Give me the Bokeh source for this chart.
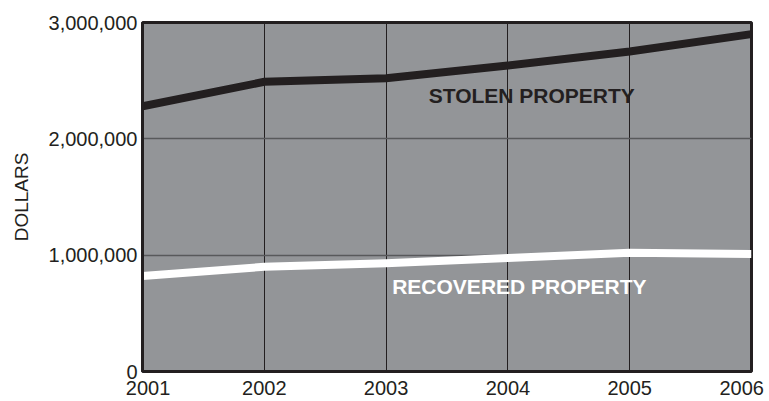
from bokeh.plotting import figure
from bokeh.models import FixedTicker, NumeralTickFormatter, Range1d, Label
from bokeh.embed import file_html
from bokeh.resources import INLINE

# ---- data ----
years = [2001, 2002, 2003, 2004, 2005, 2006]
stolen = [2280000, 2490000, 2520000, 2630000, 2750000, 2900000]
recovered = [820000, 900000, 930000, 975000, 1020000, 1010000]
y_ticks = [0, 1000000, 2000000, 3000000]
x_tick_labels = ["2001", "2002", "2003", "2004", "2005", "2006"]

X_MIN, X_MAX = 2001, 2006
Y_MIN, Y_MAX = 0, 3000000

INK = "#231f20"
FONT = "Liberation Sans"
NB = "\u00a0"

W, H = 769, 401
ML, MR, MT, MB = 142, 18, 22, 29

p = figure(width=W, height=H, output_backend="svg", toolbar_location=None,
           x_range=Range1d(X_MIN, X_MAX), y_range=Range1d(Y_MIN, Y_MAX),
           min_border_left=ML, min_border_right=MR,
           min_border_top=MT, min_border_bottom=MB)

p.background_fill_color = "#939598"
p.border_fill_color = "white"
p.outline_line_color = INK
p.outline_line_width = 3

# x axis
p.xaxis.ticker = FixedTicker(ticks=years)
p.xgrid.ticker = FixedTicker(ticks=years)
# end labels nudged inward (non-breaking padding) so they stay inside the page
overrides = {}
for i, (yr, lab) in enumerate(zip(years, x_tick_labels)):
    if i == 0:
        overrides[yr] = NB * 2 + lab
    elif i == len(years) - 1:
        overrides[yr] = lab + NB
    else:
        overrides[yr] = lab
p.xaxis.major_label_overrides = overrides
p.xaxis.major_tick_line_color = None
p.xaxis.minor_tick_line_color = None
p.xaxis.major_tick_out = 0
p.xaxis.major_tick_in = 0
p.xaxis.axis_line_color = None
p.xaxis.major_label_standoff = 5
p.xaxis.major_label_text_font = FONT
p.xaxis.major_label_text_font_size = "20px"
p.xaxis.major_label_text_color = INK
p.xgrid.grid_line_color = INK
p.xgrid.grid_line_width = 1

# y axis
p.yaxis.ticker = FixedTicker(ticks=y_ticks)
p.ygrid.ticker = FixedTicker(ticks=y_ticks)
p.ygrid.grid_line_color = "#58595b"
p.ygrid.grid_line_width = 1.5
p.yaxis.formatter = NumeralTickFormatter(format="0,0")
p.yaxis.major_tick_line_color = None
p.yaxis.minor_tick_line_color = None
p.yaxis.major_tick_out = 0
p.yaxis.major_tick_in = 0
p.yaxis.major_label_standoff = 5
p.yaxis.major_label_text_font = FONT
p.yaxis.major_label_text_font_size = "20px"
p.yaxis.major_label_text_color = INK
p.yaxis.axis_line_color = INK
p.yaxis.axis_line_width = 3
p.yaxis.axis_label = "DOLLARS"
p.yaxis.axis_label_text_font = FONT
p.yaxis.axis_label_text_font_size = "19px"
p.yaxis.axis_label_text_font_style = "normal"
p.yaxis.axis_label_text_color = INK
p.yaxis.axis_label_standoff = 14

# series
p.line(years, stolen, line_color=INK, line_width=8, line_join="miter")
p.line(years, recovered, line_color="white", line_width=8, line_join="miter")

# series labels
p.add_layout(Label(x=2003.35, y=2370000, text="STOLEN PROPERTY",
                   text_font=FONT, text_font_size="21px", text_font_style="bold",
                   text_color=INK, text_baseline="alphabetic", text_align="left"))
p.add_layout(Label(x=2003.05, y=730000, text="RECOVERED PROPERTY",
                   text_font=FONT, text_font_size="21px", text_font_style="bold",
                   text_color="white", text_baseline="alphabetic", text_align="left"))

open("out.html", "w").write(file_html(p, INLINE))
